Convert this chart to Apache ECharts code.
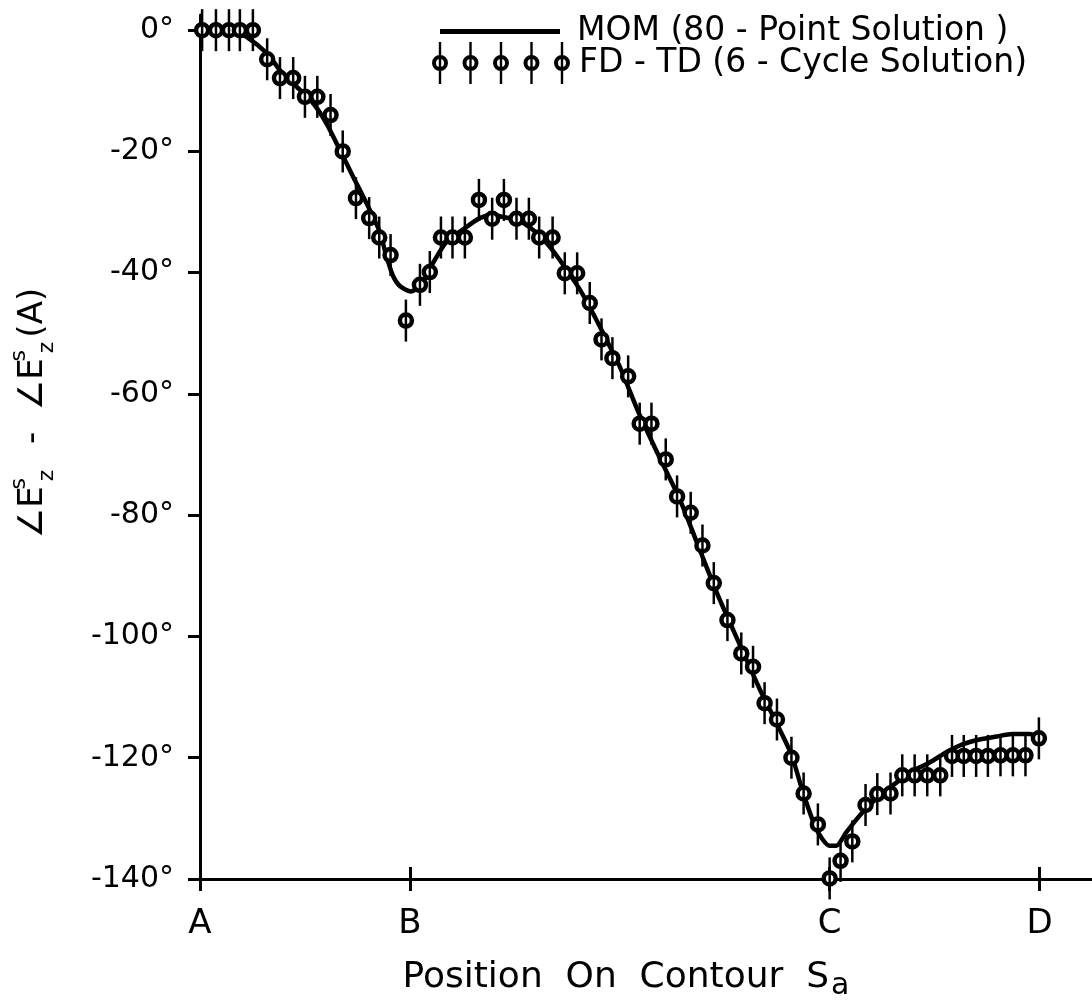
<!DOCTYPE html>
<html>
<head>
<meta charset="utf-8">
<script src="https://cdn.jsdelivr.net/npm/echarts@6.0.0/dist/echarts.min.js"></script>
<style>
  html, body { margin: 0; padding: 0; background: #fff; }
  #chart { width: 1092px; height: 1006px; }
</style>
</head>
<body>
<div id="chart"></div>
<script>
// position along the contour: A = 0, B = 1, C = 3, D = 4
var contourTicks = [0, 1, 3, 4];
var contourLabels = ['A', 'B', 'C', 'D'];
var phaseTicks = [-140, -120, -100, -80, -60, -40, -20, 0];

// MOM (80-point solution)
var momX = [0, 0.1, 0.19, 0.222, 0.318, 0.381, 0.46, 0.54, 0.603, 0.667, 0.73, 0.794, 0.857, 0.886, 0.919, 0.952,
    1.005, 1.062, 1.11, 1.175, 1.252, 1.333, 1.395, 1.443, 1.508, 1.571, 1.651, 1.714, 1.81, 1.889, 1.937,
    2.0, 2.095, 2.19, 2.286, 2.381, 2.476, 2.571, 2.667, 2.75, 2.818, 2.871, 2.937, 3.0, 3.032, 3.079,
    3.157, 3.238, 3.318, 3.395, 3.476, 3.556, 3.633, 3.714, 3.794, 3.871, 3.952, 4.0];
var momY = [0, 0, -0.8, -1.1, -3.8, -6.6, -9.3, -12.1, -15.4, -19.8, -24.2, -28.6, -33.3, -37.0, -40.5, -42.2,
    -43.1, -41.5, -38.4, -34.9, -32.9, -31.0, -30.5, -30.8, -31.3, -32.5, -35.1, -37.9, -42.8, -47.8, -51.1,
    -55.5, -63.5, -70.5, -77.4, -85.7, -93.9, -101.3, -108.7, -114.5, -119.5, -125.5, -131.8, -134.5, -134.5, -132.3,
    -129.0, -126.3, -124.1, -122.2, -120.8, -119.1, -117.8, -117.0, -116.5, -116.1, -116.1, -116.5];

// FD-TD (6-cycle solution) samples
var fdX = [0.01, 0.076, 0.138, 0.19, 0.252, 0.32, 0.381, 0.444, 0.5, 0.559, 0.622, 0.68, 0.743, 0.806, 0.854,
    0.908, 0.981, 1.048, 1.095, 1.148, 1.203, 1.262, 1.329, 1.392, 1.448, 1.508, 1.567, 1.616, 1.68, 1.738,
    1.797, 1.857, 1.913, 1.965, 2.04, 2.095, 2.151, 2.219, 2.273, 2.338, 2.394, 2.448, 2.513, 2.579, 2.635,
    2.69, 2.749, 2.818, 2.876, 2.944, 3.0, 3.052, 3.108, 3.171, 3.227, 3.29, 3.346, 3.405, 3.465, 3.527,
    3.583, 3.639, 3.698, 3.754, 3.814, 3.873, 3.933, 3.997];
var fdY = [0, 0, 0, 0, 0, -4.8, -7.9, -7.9, -11.0, -11.0, -14.0, -20.0, -27.7, -31.0, -34.2,
    -37.1, -47.9, -42.0, -39.9, -34.2, -34.2, -34.2, -28.0, -31.1, -28.0, -31.1, -31.1, -34.2, -34.2, -40.1,
    -40.1, -45.0, -51.0, -54.1, -57.1, -64.9, -64.9, -70.8, -76.9, -79.6, -85.0, -91.2, -97.3, -102.8, -105.0,
    -111.0, -113.7, -120.0, -125.9, -131.0, -139.9, -137.0, -133.8, -127.8, -126.0, -125.9, -122.9, -122.9, -122.9, -122.9,
    -119.7, -119.7, -119.7, -119.7, -119.6, -119.6, -119.6, -116.8];

var momName = 'MOM (80 - Point Solution )';
var fdName = 'FD - TD (6 - Cycle Solution)';

var FONT = 'DejaVu Sans';
var GRID_W = 892;
var GRID_H = 864;

function pairs(xs, ys) {
    var out = [];
    for (var i = 0; i < xs.length; i++) {
        out.push([xs[i], ys[i]]);
    }
    return out;
}

// ring with a bar through it, repeated for the legend sample
function markerPath(ox) {
    return 'M' + (ox + 8) + ',0 A8,8 0 1,1 ' + (ox - 8) + ',0 A8,8 0 1,1 ' + (ox + 8) + ',0 Z ' +
        'M' + (ox + 4) + ',0 A4,4 0 1,0 ' + (ox - 4) + ',0 A4,4 0 1,0 ' + (ox + 4) + ',0 Z ' +
        'M' + (ox - 1.2) + ',-21 L' + (ox + 1.2) + ',-21 L' + (ox + 1.2) + ',21 L' + (ox - 1.2) + ',21 Z';
}
var legendIcon = 'path://';
for (var k = 0; k < 5; k++) {
    legendIcon += markerPath(k * 30.5) + ' ';
}

var chart = echarts.init(document.getElementById('chart'));

var option = {
    backgroundColor: '#fff',
    animation: false,
    textStyle: { fontFamily: FONT, color: '#000' },
    grid: {
        left: 200,
        right: 0,
        top: 15,
        bottom: 127,
        containLabel: false,
        outerBoundsMode: 'none'
    },
    legend: [
        {
            left: 440,
            top: 15,
            padding: 0,
            itemWidth: 120,
            itemHeight: 5,
            selectedMode: false,
            data: [{ name: momName, icon: 'rect' }],
            textStyle: { fontFamily: FONT, fontSize: 33, color: '#000', padding: [0, 0, 0, 12] }
        },
        {
            left: 432,
            top: 42,
            padding: 0,
            itemWidth: 138,
            itemHeight: 42,
            selectedMode: false,
            data: [{ name: fdName, icon: legendIcon }],
            textStyle: { fontFamily: FONT, fontSize: 33, color: '#000', padding: [0, 0, 0, 4] }
        }
    ],
    xAxis: [
        {
            type: 'value',
            min: 0,
            max: 4.25,
            name: 'Position  On  Contour  S{sub|a}',
            nameLocation: 'middle',
            nameGap: 76,
            nameTextStyle: {
                fontFamily: FONT,
                fontSize: 36,
                color: '#000',
                padding: [0, 40, 0, 0],
                rich: {
                    sub: { fontFamily: FONT, fontSize: 30, padding: [16, 0, 0, 2] }
                }
            },
            axisLine: { show: true, onZero: false, lineStyle: { color: '#000', width: 3 } },
            axisTick: {
                show: true,
                length: 12,
                customValues: contourTicks,
                lineStyle: { color: '#000', width: 3 }
            },
            axisLabel: {
                customValues: contourTicks,
                margin: 28,
                fontFamily: FONT,
                fontSize: 34,
                color: '#000',
                formatter: function (v) {
                    return contourLabels[contourTicks.indexOf(v)];
                }
            },
            splitLine: { show: false }
        },
        {
            // top axis pulled down onto the bottom line: its outward ticks point up into the plot
            type: 'value',
            min: 0,
            max: 4.25,
            position: 'top',
            offset: -GRID_H,
            axisLine: { show: false },
            axisTick: {
                show: true,
                length: 12,
                customValues: contourTicks,
                lineStyle: { color: '#000', width: 3 }
            },
            axisLabel: { show: false },
            splitLine: { show: false }
        }
    ],
    yAxis: [
        {
            type: 'value',
            min: -140,
            max: 2.5,
            name: '\u2220E{sup|s}{sub|z}  -  \u2220E{sup|s}{sub|z}(A)',
            nameLocation: 'middle',
            nameRotate: 90,
            nameGap: 142,
            nameTextStyle: {
                fontFamily: FONT,
                fontSize: 34,
                color: '#000',
                lineHeight: 50,
                padding: [0, 0, 0, 68],
                rich: {
                    sup: { fontFamily: FONT, fontSize: 22, verticalAlign: 'top', lineHeight: 50, width: 1, padding: [0, 0, 0, 2] },
                    sub: { fontFamily: FONT, fontSize: 22, verticalAlign: 'bottom', lineHeight: 50, padding: [0, 4, 0, 2] }
                }
            },
            axisLine: { show: true, onZero: false, lineStyle: { color: '#000', width: 3 } },
            axisTick: {
                show: true,
                length: 12,
                customValues: phaseTicks,
                lineStyle: { color: '#000', width: 3 }
            },
            axisLabel: {
                customValues: phaseTicks,
                margin: 26,
                fontFamily: FONT,
                fontSize: 30,
                color: '#000',
                formatter: '{value}°'
            },
            splitLine: { show: false }
        },
        {
            // right axis moved onto the left line for the inner half of each tick
            type: 'value',
            min: -140,
            max: 2.5,
            position: 'right',
            offset: -GRID_W,
            axisLine: { show: false },
            axisTick: {
                show: true,
                length: 7,
                customValues: phaseTicks,
                lineStyle: { color: '#000', width: 3 }
            },
            axisLabel: { show: false },
            splitLine: { show: false }
        }
    ],
    series: [
        {
            name: momName,
            type: 'line',
            data: pairs(momX, momY),
            smooth: 0.25,
            symbol: 'none',
            color: '#000',
            lineStyle: { color: '#000', width: 4.5 },
            z: 2
        },
        {
            name: fdName,
            type: 'custom',
            data: pairs(fdX, fdY),
            encode: { x: 0, y: 1 },
            itemStyle: { color: '#000' },
            z: 3,
            renderItem: function (params, api) {
                var p = api.coord([api.value(0), api.value(1)]);
                return {
                    type: 'group',
                    children: [
                        {
                            type: 'circle',
                            shape: { cx: p[0], cy: p[1], r: 6 },
                            style: { fill: '#fff', stroke: '#000', lineWidth: 4.5 }
                        },
                        {
                            type: 'line',
                            shape: { x1: p[0], y1: p[1] - 21, x2: p[0], y2: p[1] + 21 },
                            style: { stroke: '#000', lineWidth: 2.5 }
                        }
                    ]
                };
            }
        }
    ]
};

chart.setOption(option);
</script>
</body>
</html>
